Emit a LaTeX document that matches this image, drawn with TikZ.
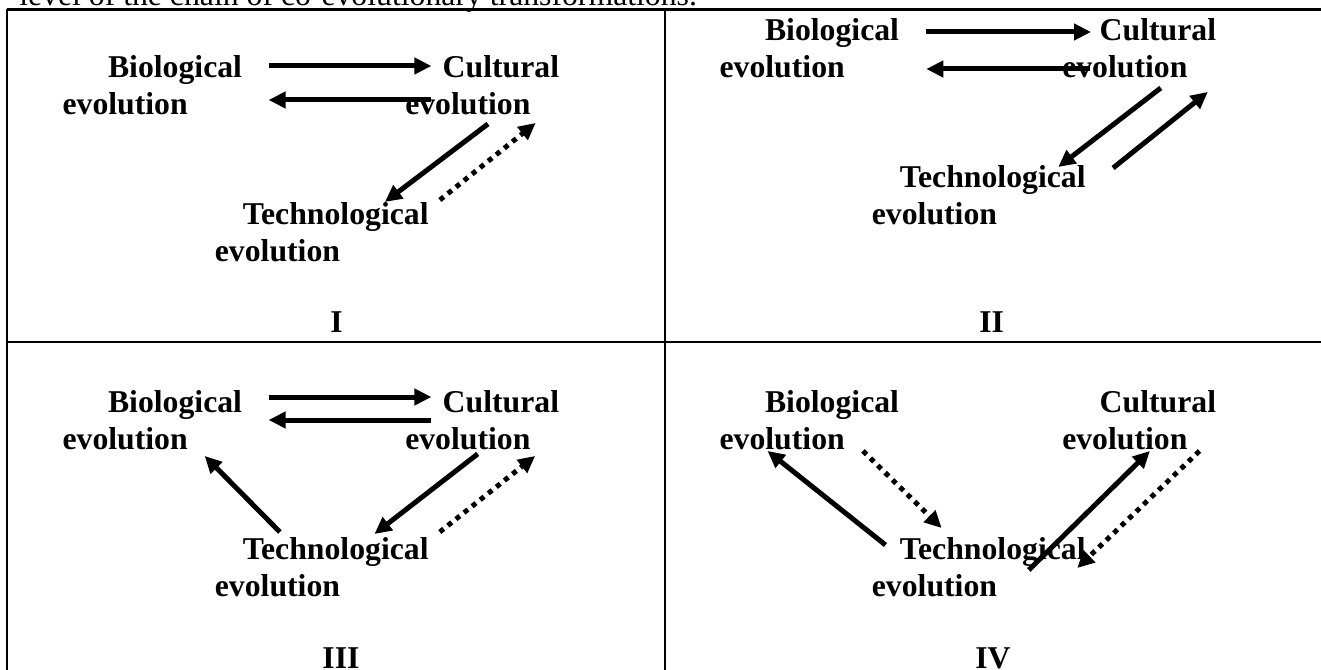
\documentclass[tikz,border=0pt]{standalone}
\usepackage{fontspec}
\setmainfont{Liberation Serif}
\usetikzlibrary{arrows.meta}
\tikzset{
  lbl/.style={anchor=north west, inner sep=0pt, align=left,
    font=\bfseries\fontsize{23.8pt}{27.75pt}\selectfont},
  numeral/.style={anchor=base, inner sep=0pt,
    font=\bfseries\fontsize{23.8pt}{27.75pt}\selectfont},
  arr/.style={line width=3.75pt, -{Triangle[length=12.75pt,width=12pt]}},
  dotarr/.style={arr, dash pattern=on 3.75pt off 4pt},
  frame/.style={line width=1.7pt},
}
\begin{document}
\begin{tikzpicture}[x=0.75pt,y=-0.75pt]
\useasboundingbox (0,0) rectangle (1321,670);

% running text cut at the top
\node[anchor=base west, inner sep=0pt, font=\fontsize{23.8pt}{28pt}\selectfont]
  (caption) at (19,5.5) {level of the chain of co-evolutionary transformations.};

% table frame
\draw[frame] (7.3,9.5) -- (1321,9.5);
\draw[frame] (7.3,9.5) -- (7.3,670);
\draw[frame] (665,9.5) -- (665,670);
\draw[frame] (7.3,342) -- (1321,342);

% ---------------- Panel I
\begin{scope}[name prefix=p1-]
\node[lbl] (bio)  at (62.3,55)   {\hspace*{34.1pt}Biological\\evolution};
\node[lbl] (cul)  at (405,55)    {\hspace*{28.1pt}Cultural\\evolution};
\node[lbl] (tech) at (214.6,202) {\hspace*{21pt}Technological\\evolution};
\draw[arr] ([shift={(26.3,11)}]bio.north east) -- ([shift={(26.4,11)}]cul.north west);
\draw[arr] ([shift={(26,45)}]cul.north west) -- ([shift={(26.3,45)}]bio.north east);
\draw[arr] ([shift={(83,9)}]cul.south west) -- ([shift={(-44,0)}]tech.north east);
\draw[dotarr] ([shift={(11,-2)}]tech.north east) -- ([shift={(-23.7,8)}]cul.south east);
\end{scope}
\node[numeral] (n1) at (336.5,333) {I};

% ---------------- Panel II
\begin{scope}[shift={(657,-37)}, name prefix=p2-]
\node[lbl] (bio)  at (62.3,55)   {\hspace*{34.1pt}Biological\\evolution};
\node[lbl] (cul)  at (405,55)    {\hspace*{28.1pt}Cultural\\evolution};
\node[lbl] (tech) at (214.6,202) {\hspace*{21pt}Technological\\evolution};
\draw[arr] ([shift={(27,14)}]bio.north east) -- ([shift={(29,14)}]cul.north west);
\draw[arr] ([shift={(28,51)}]cul.north west) -- ([shift={(27,51)}]bio.north east);
\draw[arr] ([shift={(98.8,10)}]cul.south west) -- ([shift={(-27.6,2)}]tech.north east);
\draw[arr] ([shift={(27.2,3)}]tech.north east) -- ([shift={(-8.5,14)}]cul.south east);
\end{scope}
\node[numeral] (n2) at (991.6,333) {II};

% ---------------- Panel III
\begin{scope}[shift={(0,335)}, name prefix=p3-]
\node[lbl] (bio)  at (62.3,55)   {\hspace*{34.1pt}Biological\\evolution};
\node[lbl] (cul)  at (405,55)    {\hspace*{28.1pt}Cultural\\evolution};
\node[lbl] (tech) at (214.6,202) {\hspace*{21pt}Technological\\evolution};
\draw[arr] ([shift={(26.3,7)}]bio.north east) -- ([shift={(26.4,7)}]cul.north west);
\draw[arr] ([shift={(26,30)}]cul.north west) -- ([shift={(26.3,30)}]bio.north east);
\draw[arr] ([shift={(72.7,4)}]cul.south west) -- ([shift={(-54.4,-3)}]tech.north east);
\draw[dotarr] ([shift={(10.9,-5)}]tech.north east) -- ([shift={(-24.2,6)}]cul.south east);
\draw[arr] ([shift={(65.3,-5)}]tech.north west) -- ([shift={(-37.6,6)}]bio.south east);
\end{scope}
\node[numeral] (n3) at (341,668) {III};

% ---------------- Panel IV
\begin{scope}[shift={(657,335)}, name prefix=p4-]
\node[lbl] (bio)  at (62.3,55)   {\hspace*{34.1pt}Biological\\evolution};
\node[lbl] (cul)  at (405,55)    {\hspace*{28.1pt}Cultural\\evolution};
\node[lbl] (tech) at (214.6,202) {\hspace*{21pt}Technological\\evolution};
\draw[arr] ([shift={(13.9,8)}]tech.north west) -- ([shift={(48.2,1)}]bio.south west);
\draw[dotarr] ([shift={(-36.3,1)}]bio.south east) -- ([shift={(70,-9)}]tech.north west);
\draw[arr] ([shift={(-57.1,33)}]tech.north east) -- ([shift={(87.9,1)}]cul.south west);
\draw[dotarr] ([shift={(-16.9,1)}]cul.south east) -- ([shift={(-8.6,31)}]tech.north east);
\end{scope}
\node[numeral] (n4) at (993,668) {IV};
\end{tikzpicture}
\end{document}
